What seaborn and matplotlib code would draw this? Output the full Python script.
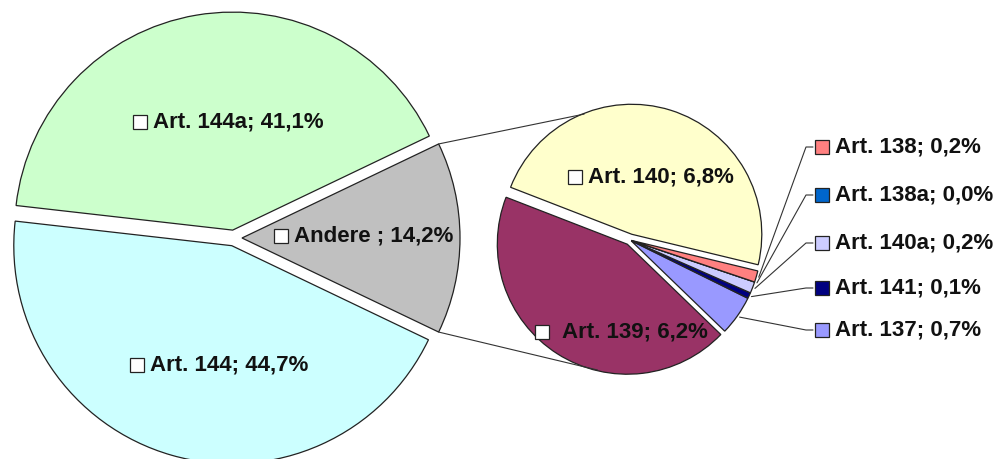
import numpy as np
import seaborn as sns
import matplotlib
matplotlib.use("Agg")
import matplotlib.pyplot as plt

# main pie
main_names = ["Andere ", "Art. 144a", "Art. 144"]
main_colors = ["#C0C0C0", "#CCFFCC", "#CCFFFF"]
# second pie (breakdown of "Andere")
sub_names = ["Art. 137", "Art. 141", "Art. 140a", "Art. 138a", "Art. 138", "Art. 140", "Art. 139"]
sub_values = [0.7, 0.1, 0.2, 0.0, 0.2, 6.8, 6.2]
sub_colors = ["#9999FF", "#000080", "#CCCCFF", "#0066CC", "#FF8080", "#FFFFCC", "#993366"]
andere = round(sum(sub_values), 1)
main_values = [andere, 41.1, 44.7]

W, H = 1002, 459

sns.set_theme(style="white")
plt.rcParams["font.family"] = ["Liberation Sans", "DejaVu Sans"]


def P(x, y):
    # pixel (y down) -> data (y up)
    return x, H - y


def fmt(name, v):
    return f"{name}; " + f"{v:.1f}".replace(".", ",") + "%"


fig = plt.figure(figsize=(W / 100, H / 100), dpi=100)
ax = fig.add_axes([0, 0, 1, 1])

edge = dict(edgecolor="#222222", linewidth=0.9)

# main pie (explode is in data units = pixels here)
mc, mr, mex = P(234, 238), 218, 8
m_start = -main_values[0] / sum(main_values) * 180
ax.pie(main_values, colors=main_colors, center=mc, radius=mr, startangle=m_start,
       explode=[mex] * 3, wedgeprops=edge, frame=True)

# secondary pie
sc, sr = P(630, 240), 130
s_start = -44
ax.pie(sub_values, colors=sub_colors, center=sc, radius=sr, startangle=s_start,
       explode=[1.5, 1.5, 1.5, 1.5, 1.5, 6, 5], wedgeprops=edge, frame=True)

# connector lines between the "Andere" slice and the second pie
half = np.deg2rad(-m_start)
ox = mc[0] + mex
for a_main, a_sub in [(half, np.deg2rad(110)), (-half, np.deg2rad(-104))]:
    x0, y0 = ox + mr * np.cos(a_main), mc[1] + mr * np.sin(a_main)
    x1, y1 = sc[0] + 134 * np.cos(a_sub), sc[1] + 134 * np.sin(a_sub)
    ax.plot([x0, x1], [y0, y1], color="#333333", lw=0.8)


def label(sq_x, sq_y, text, fc="white", gap=13):
    x, y = P(sq_x, sq_y)
    ax.plot([x], [y], marker="s", ms=10.5, mfc=fc, mec="#222222", mew=0.9)
    ax.text(x + gap, y, text, ha="left", va="center", fontsize=16,
            fontweight="bold", color="#111111")


# labels inside the slices
label(140, 122, fmt(main_names[1], main_values[1]))
label(137, 365, fmt(main_names[2], main_values[2]))
label(281, 236, fmt(main_names[0], main_values[0]))
label(575, 177, fmt(sub_names[5], sub_values[5]))
label(542, 332, fmt(sub_names[6], sub_values[6]), gap=20)

# small slices: labels outside with leader lines
angles = np.cumsum([0] + sub_values) / sum(sub_values) * 360 + s_start
label_y = {"Art. 138": 147, "Art. 138a": 195, "Art. 140a": 243, "Art. 141": 288, "Art. 137": 330}
for i, name in enumerate(sub_names[:5]):
    mid = np.deg2rad((angles[i] + angles[i + 1]) / 2)
    x0, y0 = sc[0] + (sr + 4) * np.cos(mid), sc[1] + (sr + 4) * np.sin(mid)
    ly = label_y[name]
    xa, ya = P(806, ly)
    xb, _ = P(813, ly)
    ax.plot([x0, xa, xb], [y0, ya, ya], color="#333333", lw=0.8)
    label(822, ly, fmt(name, sub_values[i]), fc=sub_colors[i])

ax.set_xlim(0, W)
ax.set_ylim(0, H)
ax.set_aspect("equal")
ax.axis("off")

fig.savefig("out.png", dpi=100)
